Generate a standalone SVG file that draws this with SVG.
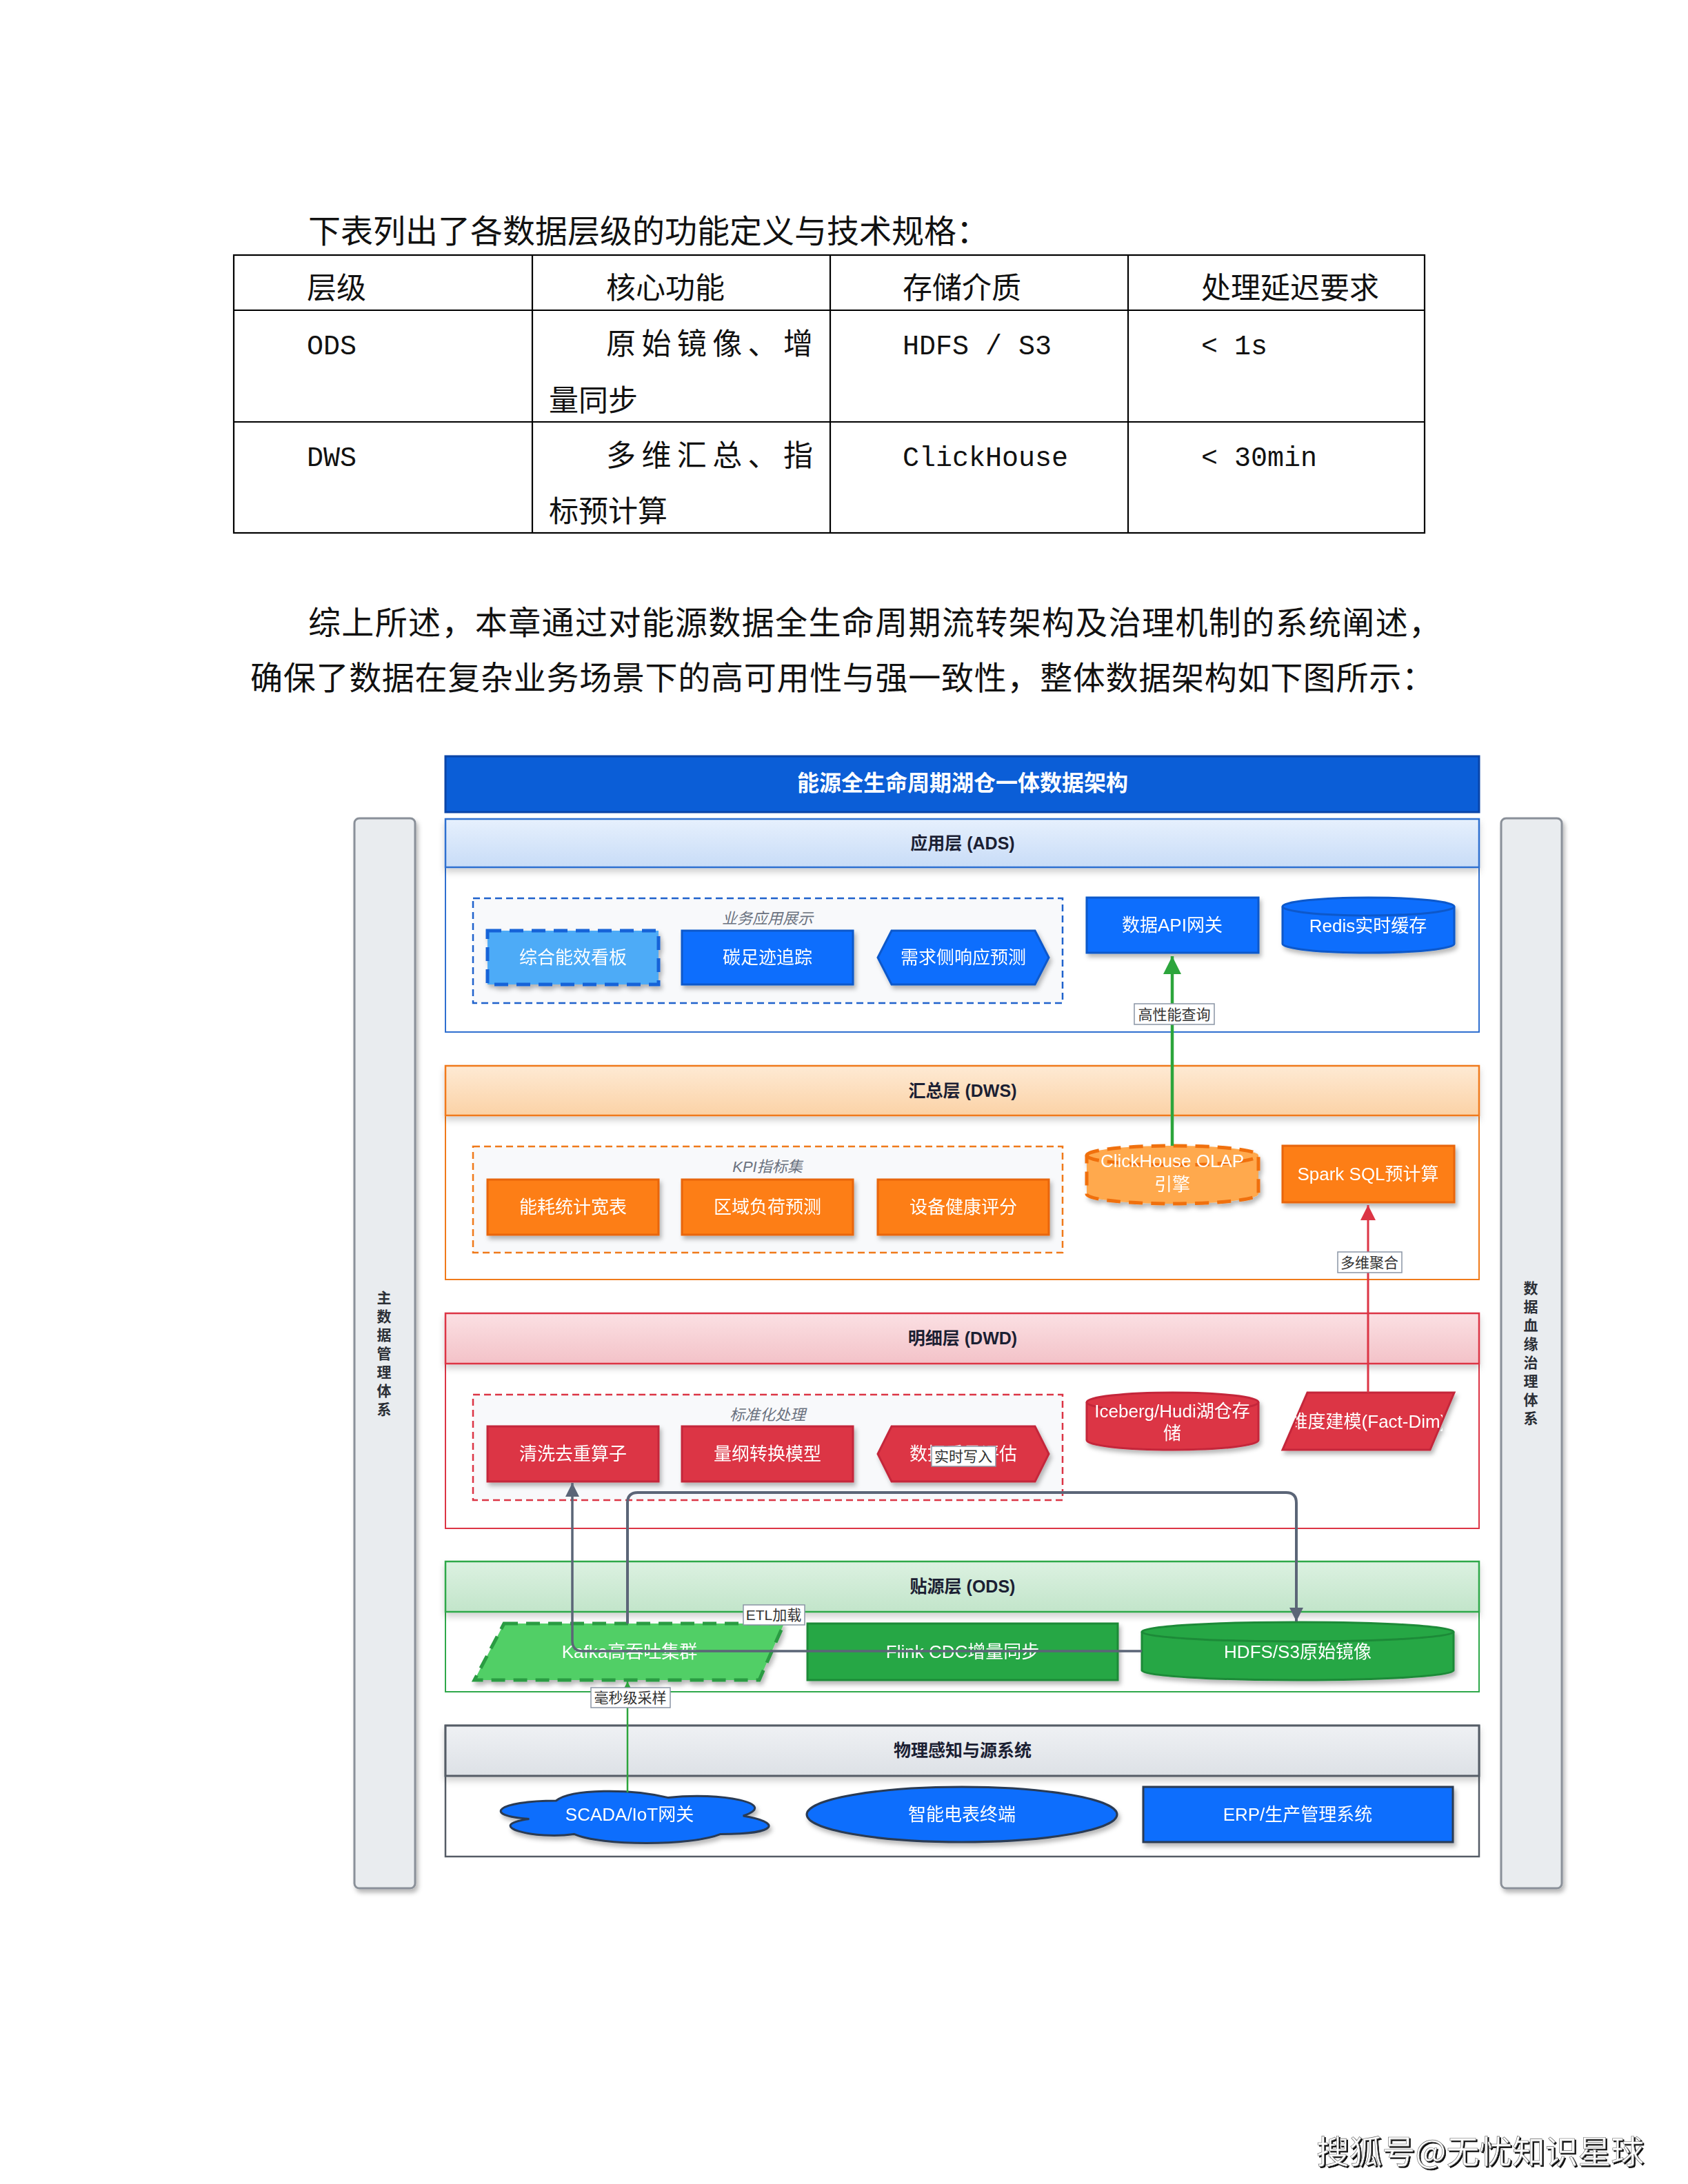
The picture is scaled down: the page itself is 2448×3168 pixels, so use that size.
<svg xmlns="http://www.w3.org/2000/svg" width="2448" height="3168" viewBox="0 0 2448 3168">
<defs>
<style>
.doc{font-family:"Noto Sans CJK SC",sans-serif;font-size:47px;fill:#111;}
.tbl{font-family:"Noto Sans CJK SC",sans-serif;font-size:43px;fill:#111;}
.mono{font-family:"Liberation Mono","Noto Sans CJK SC",monospace;font-size:40px;fill:#111;}
.tline{stroke:#000;stroke-width:2.2;fill:none;}
.dg{font-family:"Liberation Sans","Noto Sans CJK SC",sans-serif;}
.nt{font-family:"Liberation Sans","Noto Sans CJK SC",sans-serif;font-size:26px;fill:#fff;text-anchor:middle;}
.lt{font-family:"Liberation Sans","Noto Sans CJK SC",sans-serif;font-size:25px;font-weight:bold;fill:#1b2033;text-anchor:middle;}
.gt{font-family:"Liberation Sans","Noto Sans CJK SC",sans-serif;font-size:22px;font-style:italic;fill:#6b7280;text-anchor:middle;}
.et{font-family:"Liberation Sans","Noto Sans CJK SC",sans-serif;font-size:21px;fill:#333;text-anchor:middle;}
.eb{fill:#fff;stroke:#8a95a5;stroke-width:1.5;}
.st{font-family:"Noto Sans CJK SC",sans-serif;font-size:21px;font-weight:bold;fill:#2b2f36;writing-mode:vertical-rl;text-anchor:middle;letter-spacing:6px;}
.side{fill:#e9ecef;stroke:#8a9099;stroke-width:3;}
.blue{fill:#0d6efd;stroke:#0a58ca;stroke-width:3;}
.orange{fill:#fd7e14;stroke:#e8650a;stroke-width:3;}
.red{fill:#dc3545;stroke:#c4283a;stroke-width:3;}
.green{fill:#28a745;stroke:#1e8a38;stroke-width:3;}
.phys{fill:#0d6efd;stroke:#2b3a52;stroke-width:3;}
</style>
<filter id="sh" x="-10%" y="-20%" width="130%" height="160%">
<feDropShadow dx="3" dy="5" stdDeviation="3" flood-color="#000" flood-opacity="0.28"/>
</filter>
<filter id="shl" x="-5%" y="-20%" width="110%" height="160%">
<feDropShadow dx="0" dy="6" stdDeviation="5" flood-color="#000" flood-opacity="0.18"/>
</filter>
<filter id="fsh" x="-5%" y="-20%" width="110%" height="150%">
<feDropShadow dx="2" dy="2" stdDeviation="0.6" flood-color="#000" flood-opacity="0.95"/>
</filter>
<linearGradient id="gAds" x1="0" y1="0" x2="0" y2="1"><stop offset="0" stop-color="#e6f0fd"/><stop offset="1" stop-color="#c8dcf7"/></linearGradient>
<linearGradient id="gDws" x1="0" y1="0" x2="0" y2="1"><stop offset="0" stop-color="#feead4"/><stop offset="1" stop-color="#fbd2a6"/></linearGradient>
<linearGradient id="gDwd" x1="0" y1="0" x2="0" y2="1"><stop offset="0" stop-color="#fbe0e3"/><stop offset="1" stop-color="#f3c2c8"/></linearGradient>
<linearGradient id="gOds" x1="0" y1="0" x2="0" y2="1"><stop offset="0" stop-color="#dcf1e1"/><stop offset="1" stop-color="#c2e5ca"/></linearGradient>
<linearGradient id="gPhy" x1="0" y1="0" x2="0" y2="1"><stop offset="0" stop-color="#eff1f4"/><stop offset="1" stop-color="#dde1e6"/></linearGradient>
<marker id="mGreen" viewBox="0 0 10 10" refX="10" refY="5" markerWidth="26" markerHeight="28" markerUnits="userSpaceOnUse" orient="auto"><path d="M0,0 L10,5 L0,10 Z" fill="#2ca53c"/></marker>
<marker id="mGreenS" viewBox="0 0 10 10" refX="10" refY="5" markerWidth="16" markerHeight="16" markerUnits="userSpaceOnUse" orient="auto"><path d="M0,0 L10,5 L0,10 Z" fill="#2ca53c"/></marker>
<marker id="mRed" viewBox="0 0 10 10" refX="10" refY="5" markerWidth="22" markerHeight="24" markerUnits="userSpaceOnUse" orient="auto"><path d="M0,0 L10,5 L0,10 Z" fill="#dc3545"/></marker>
<marker id="mGray" viewBox="0 0 10 10" refX="10" refY="5" markerWidth="22" markerHeight="20" markerUnits="userSpaceOnUse" orient="auto"><path d="M0,0 L10,5 L0,10 Z" fill="#5b6577"/></marker>
<clipPath id="clipDim"><rect x="1879" y="2020" width="213" height="83"/></clipPath>
</defs>

<rect x="0" y="0" width="2448" height="3168" fill="#ffffff"/>

<!-- document text -->
<g id="doc-text">
<text class="doc" x="447" y="352">下表列出了各数据层级的功能定义与技术规格：</text>
<text class="doc" x="447" y="920" textLength="1643" lengthAdjust="spacing">综上所述，本章通过对能源数据全生命周期流转架构及治理机制的系统阐述，</text>
<text class="doc" x="363" y="1000" textLength="1717" lengthAdjust="spacing">确保了数据在复杂业务场景下的高可用性与强一致性，整体数据架构如下图所示：</text>
</g>

<!-- table -->
<g id="spec-table">
<rect class="tline" x="339" y="370" width="1727" height="403"/>
<line class="tline" x1="339" y1="450" x2="2066" y2="450"/>
<line class="tline" x1="339" y1="612" x2="2066" y2="612"/>
<line class="tline" x1="772" y1="370" x2="772" y2="773"/>
<line class="tline" x1="1204" y1="370" x2="1204" y2="773"/>
<line class="tline" x1="1636" y1="370" x2="1636" y2="773"/>
<text class="tbl" x="445" y="433">层级</text>
<text class="tbl" x="879" y="433">核心功能</text>
<text class="tbl" x="1309" y="433">存储介质</text>
<text class="tbl" x="1742" y="433">处理延迟要求</text>
<text class="mono" x="445" y="514">ODS</text>
<text class="tbl" x="879" y="514" textLength="300" lengthAdjust="spacing">原始镜像、增</text>
<text class="tbl" x="796" y="596">量同步</text>
<text class="mono" x="1309" y="514">HDFS / S3</text>
<text class="mono" x="1742" y="514">&lt; 1s</text>
<text class="mono" x="445" y="676">DWS</text>
<text class="tbl" x="879" y="676" textLength="300" lengthAdjust="spacing">多维汇总、指</text>
<text class="tbl" x="796" y="757">标预计算</text>
<text class="mono" x="1309" y="676">ClickHouse</text>
<text class="mono" x="1742" y="676">&lt; 30min</text>
</g>

<!-- diagram -->
<g id="title">
<rect x="646" y="1097" width="1499" height="81" fill="#0b5ed7" stroke="#0a45a8" stroke-width="3"/>
<text class="dg" x="1396" y="1147" font-size="32" font-weight="bold" fill="#fff" text-anchor="middle">能源全生命周期湖仓一体数据架构</text>
</g>

<g id="side-mdm">
<rect class="side" x="514" y="1187" width="88" height="1552" rx="7" filter="url(#sh)"/>
<text class="st" x="557" y="1966">主数据管理体系</text>
</g>
<g id="side-lineage">
<rect class="side" x="2177" y="1187" width="88" height="1552" rx="7" filter="url(#sh)"/>
<text class="st" x="2220" y="1966">数据血缘治理体系</text>
</g>

<!-- layers -->
<g id="layer-ads">
<rect x="646" y="1188" width="1499" height="309" fill="#fff" stroke="#2f6fd0" stroke-width="2"/>
<rect x="646" y="1188" width="1499" height="70" fill="url(#gAds)" stroke="#2f6fd0" stroke-width="2.5" filter="url(#shl)"/>
<text class="lt" x="1396" y="1232">应用层 (ADS)</text>
</g>
<g id="layer-dws">
<rect x="646" y="1546" width="1499" height="310" fill="#fff" stroke="#f07a1a" stroke-width="2"/>
<rect x="646" y="1546" width="1499" height="72" fill="url(#gDws)" stroke="#f07a1a" stroke-width="2.5" filter="url(#shl)"/>
<text class="lt" x="1396" y="1591">汇总层 (DWS)</text>
</g>
<g id="layer-dwd">
<rect x="646" y="1905" width="1499" height="312" fill="#fff" stroke="#dc3545" stroke-width="2"/>
<rect x="646" y="1905" width="1499" height="73" fill="url(#gDwd)" stroke="#dc3545" stroke-width="2.5" filter="url(#shl)"/>
<text class="lt" x="1396" y="1950">明细层 (DWD)</text>
</g>
<g id="layer-ods">
<rect x="646" y="2265" width="1499" height="189" fill="#fff" stroke="#2fa84a" stroke-width="2"/>
<rect x="646" y="2265" width="1499" height="73" fill="url(#gOds)" stroke="#2fa84a" stroke-width="2.5" filter="url(#shl)"/>
<text class="lt" x="1396" y="2310">贴源层 (ODS)</text>
</g>
<g id="layer-phys">
<rect x="646" y="2503" width="1499" height="190" fill="#fff" stroke="#555c66" stroke-width="2.5"/>
<rect x="646" y="2503" width="1499" height="73" fill="url(#gPhy)" stroke="#555c66" stroke-width="3" filter="url(#shl)"/>
<text class="lt" x="1396" y="2548">物理感知与源系统</text>
</g>

<!-- groups -->
<g id="grp-app">
<rect x="686" y="1303" width="855" height="152" fill="#f8f9fb" stroke="#1f62cc" stroke-width="2.5" stroke-dasharray="10 6"/>
<text class="gt" x="1113" y="1340">业务应用展示</text>
</g>
<g id="grp-kpi">
<rect x="686" y="1663" width="855" height="154" fill="#f8f9fb" stroke="#f07a1a" stroke-width="2.5" stroke-dasharray="10 6"/>
<text class="gt" x="1113" y="1700">KPI指标集</text>
</g>
<g id="grp-std">
<rect x="686" y="2023" width="855" height="153" fill="#f8f9fb" stroke="#dc3545" stroke-width="2.5" stroke-dasharray="10 6"/>
<text class="gt" x="1113" y="2060">标准化处理</text>
</g>

<!-- ADS nodes -->
<g id="n-dashboard" filter="url(#sh)">
<rect x="707" y="1350" width="248" height="78" fill="#4dabf7" stroke="#1864d8" stroke-width="5" stroke-dasharray="20 12"/>
<text class="nt" x="831" y="1398">综合能效看板</text>
</g>
<g id="n-carbon" filter="url(#sh)">
<rect class="blue" x="989" y="1350" width="248" height="78"/>
<text class="nt" x="1113" y="1398">碳足迹追踪</text>
</g>
<g id="n-demand" filter="url(#sh)">
<polygon class="blue" points="1293,1350 1501,1350 1521,1389 1501,1428 1293,1428 1273,1389"/>
<text class="nt" x="1397" y="1398">需求侧响应预测</text>
</g>
<g id="n-api" filter="url(#sh)">
<rect class="blue" x="1576" y="1302" width="249" height="80"/>
<text class="nt" x="1700" y="1351">数据API网关</text>
</g>
<g id="n-redis" filter="url(#sh)">
<path class="blue" d="M1860,1315 A124.5,13 0 0 1 2109,1315 V1369 A124.5,13 0 0 1 1860,1369 Z"/>
<path d="M1860,1315 A124.5,13 0 0 0 2109,1315" fill="none" stroke="#0a58ca" stroke-width="3"/>
<text class="nt" x="1984" y="1352">Redis实时缓存</text>
</g>

<!-- DWS nodes -->
<g id="n-wide" filter="url(#sh)">
<rect class="orange" x="707" y="1711" width="248" height="80"/>
<text class="nt" x="831" y="1760">能耗统计宽表</text>
</g>
<g id="n-load" filter="url(#sh)">
<rect class="orange" x="989" y="1711" width="248" height="80"/>
<text class="nt" x="1113" y="1760">区域负荷预测</text>
</g>
<g id="n-health" filter="url(#sh)">
<rect class="orange" x="1273" y="1711" width="248" height="80"/>
<text class="nt" x="1397" y="1760">设备健康评分</text>
</g>
<g id="n-clickhouse" filter="url(#sh)">
<path d="M1576,1676 A124.5,14 0 0 1 1825,1676 V1732 A124.5,14 0 0 1 1576,1732 Z" fill="#ffa94d" stroke="#f0700f" stroke-width="5" stroke-dasharray="20 12"/>
<path d="M1576,1676 A124.5,14 0 0 0 1825,1676" fill="none" stroke="#f0700f" stroke-width="5" stroke-dasharray="20 12"/>
<text class="nt" x="1700" y="1693">ClickHouse OLAP</text>
<text class="nt" x="1700" y="1727">引擎</text>
</g>
<g id="n-spark" filter="url(#sh)">
<rect class="orange" x="1860" y="1662" width="249" height="82"/>
<text class="nt" x="1984" y="1712">Spark SQL预计算</text>
</g>

<!-- DWD nodes -->
<g id="n-clean" filter="url(#sh)">
<rect class="red" x="707" y="2069" width="248" height="80"/>
<text class="nt" x="831" y="2118">清洗去重算子</text>
</g>
<g id="n-unit" filter="url(#sh)">
<rect class="red" x="989" y="2069" width="248" height="80"/>
<text class="nt" x="1113" y="2118">量纲转换模型</text>
</g>
<g id="n-quality" filter="url(#sh)">
<polygon class="red" points="1293,2069 1501,2069 1521,2109 1501,2149 1293,2149 1273,2109"/>
<text class="nt" x="1397" y="2118">数据质量评估</text>
</g>
<g id="n-iceberg" filter="url(#sh)">
<path class="red" d="M1576,2034 A124.5,14 0 0 1 1825,2034 V2089 A124.5,14 0 0 1 1576,2089 Z"/>
<path d="M1576,2034 A124.5,14 0 0 0 1825,2034" fill="none" stroke="#c4283a" stroke-width="3"/>
<text class="nt" x="1700" y="2056">Iceberg/Hudi湖仓存</text>
<text class="nt" x="1700" y="2088">储</text>
</g>
<g id="n-dim" filter="url(#sh)">
<polygon class="red" points="1896,2020 2109,2020 2074,2103 1860,2103"/>
<text class="nt" x="1984" y="2071" clip-path="url(#clipDim)">维度建模(Fact-Dim)</text>
</g>

<!-- ODS nodes -->
<g id="n-kafka" filter="url(#sh)">
<polygon points="731,2355 1137,2355 1101,2437 688,2437" fill="#51cf66" stroke="#2b9b43" stroke-width="5" stroke-dasharray="20 12"/>
<text class="nt" x="913" y="2405">Kafka高吞吐集群</text>
</g>
<g id="n-flink" filter="url(#sh)">
<rect class="green" x="1171" y="2355" width="450" height="82"/>
<text class="nt" x="1396" y="2405">Flink CDC增量同步</text>
</g>
<g id="n-hdfs" filter="url(#sh)">
<path class="green" d="M1656,2367 A226,14 0 0 1 2108,2367 V2423 A226,14 0 0 1 1656,2423 Z"/>
<path d="M1656,2367 A226,14 0 0 0 2108,2367" fill="none" stroke="#1e8a38" stroke-width="3"/>
<text class="nt" x="1882" y="2405">HDFS/S3原始镜像</text>
</g>

<!-- physical nodes -->
<g id="n-scada" filter="url(#sh)">
<path class="phys" d="M806.5,2612 C719.7,2612 698,2634 767.4,2638.4 C698,2648.1 776.1,2669.2 832.5,2660.4 C871.6,2678 1001.8,2678 1045.2,2660.4 C1132,2660.4 1132,2642.8 1077.75,2634 C1132,2616.4 1045.2,2598.8 969.25,2607.6 C915,2594.4 828.2,2594.4 806.5,2612 Z"/>
<text class="nt" x="913" y="2641">SCADA/IoT网关</text>
</g>
<g id="n-meter" filter="url(#sh)">
<ellipse class="phys" cx="1395" cy="2632" rx="225" ry="40"/>
<text class="nt" x="1395" y="2641">智能电表终端</text>
</g>
<g id="n-erp" filter="url(#sh)">
<rect class="phys" x="1658" y="2592" width="449" height="80"/>
<text class="nt" x="1882" y="2641">ERP/生产管理系统</text>
</g>

<!-- connectors -->
<g id="edges">
<path d="M1700,1662 V1387" fill="none" stroke="#2ca53c" stroke-width="4.5" marker-end="url(#mGreen)"/>
<rect class="eb" x="1645" y="1456" width="116" height="30"/>
<text class="et" x="1703" y="1479">高性能查询</text>

<path d="M1984,2020 V1748" fill="none" stroke="#dc3545" stroke-width="3" marker-end="url(#mRed)"/>
<rect class="eb" x="1940" y="1816" width="93" height="30"/>
<text class="et" x="1986" y="1839">多维聚合</text>

<path d="M910,2355 V2180 Q910,2165 925,2165 H1865 Q1880,2165 1880,2180 V2352" fill="none" stroke="#5b6577" stroke-width="4" marker-end="url(#mGray)"/>
<rect class="eb" x="1351" y="2098" width="93" height="29"/>
<text class="et" x="1397" y="2120">实时写入</text>

<path d="M1656,2395 H845 Q830,2395 830,2380 V2151" fill="none" stroke="#5b6577" stroke-width="3.5" marker-end="url(#mGray)"/>
<rect class="eb" x="1078" y="2328" width="89" height="29"/>
<text class="et" x="1122" y="2350">ETL加载</text>

<path d="M910,2600 V2439" fill="none" stroke="#2ca53c" stroke-width="2.5" marker-end="url(#mGreenS)"/>
<rect class="eb" x="857" y="2448" width="115" height="29"/>
<text class="et" x="914" y="2470">毫秒级采样</text>
</g>

<!-- footer -->
<text x="1909" y="3138" font-family="Noto Sans CJK SC, sans-serif" font-size="47" fill="#fff" stroke="#666" stroke-width="0.6" textLength="475" lengthAdjust="spacingAndGlyphs" filter="url(#fsh)">搜狐号@无忧知识星球</text>
</svg>
